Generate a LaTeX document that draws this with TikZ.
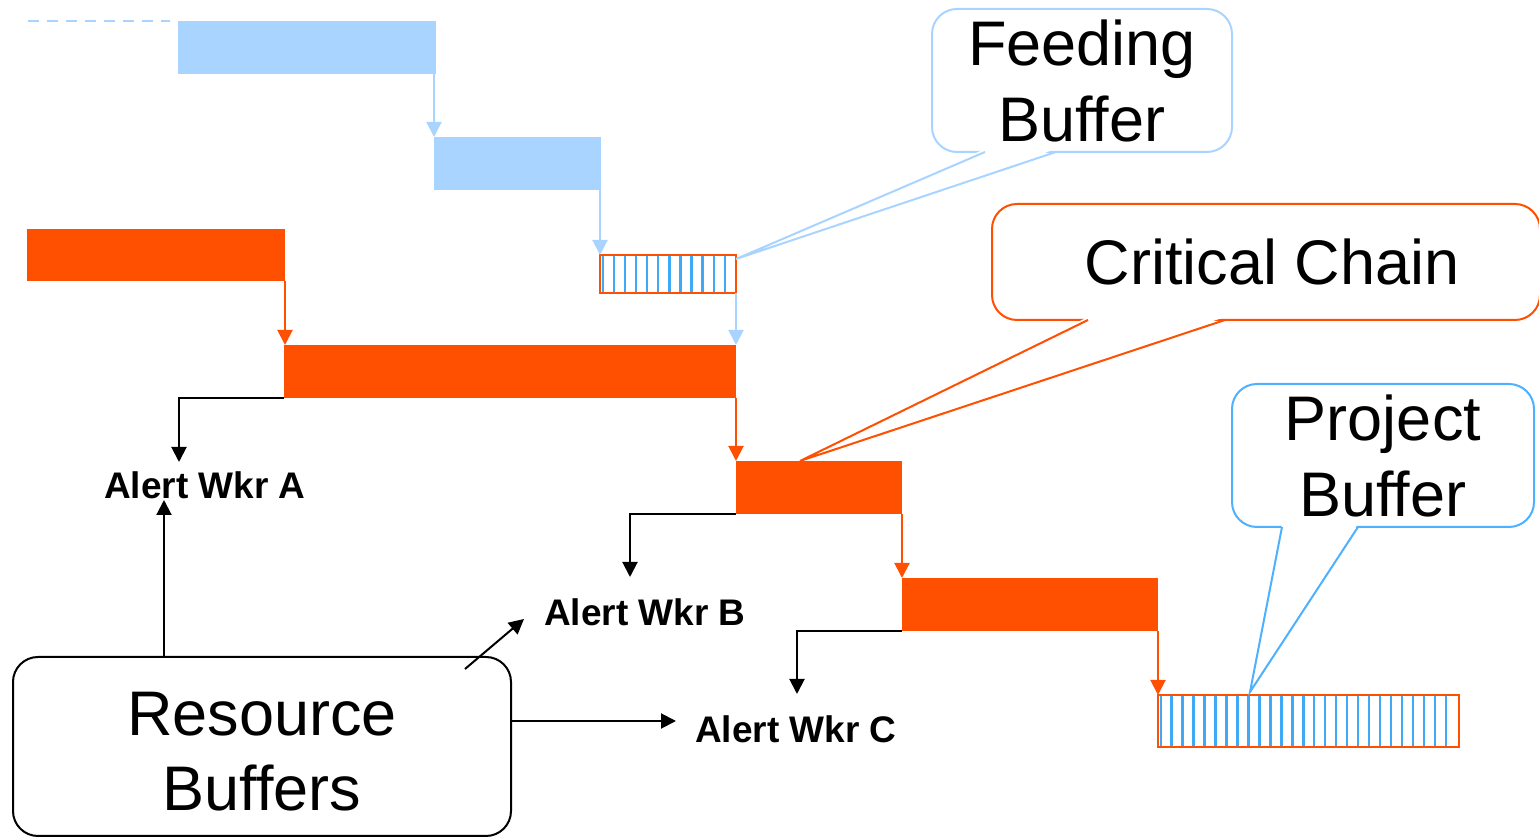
\documentclass[tikz,border=0pt]{standalone}
\usepackage{fontspec}
\setmainfont{Liberation Sans}
\usetikzlibrary{arrows.meta}
\definecolor{chain}{HTML}{FF4F00}
\definecolor{feedblue}{HTML}{A9D4FF}
\definecolor{stripeblue}{HTML}{3FA9F5}
\definecolor{projblue}{HTML}{4DB1FF}

% task bar: name, x1, y1, x2, y2, style
\newcommand\taskbar[6]{%
  \node[#6, minimum width={(#4-#2)*0.5pt}, minimum height={(#5-#3)*0.5pt}] (#1) at (#2,#3) {};}

\begin{document}
\begin{tikzpicture}[x=0.5pt,y=-0.5pt,
  barbase/.style={inner sep=0pt, outer sep=0pt, anchor=north west},
  feedbar/.style={barbase, fill=feedblue},
  chainbar/.style={barbase, fill=chain},
  bufbar/.style={barbase, fill=white, draw=chain, line width=1pt},
  tip/.style={-{Triangle[length=7.5pt,width=7.5pt]}},
  feedlink/.style={tip, draw=feedblue, line width=1pt},
  chainlink/.style={tip, draw=chain, line width=1pt},
  alertlink/.style={tip, draw=black, line width=1pt},
  stripe/.style={draw=stripeblue, line width=1.2pt},
  alertlbl/.style={inner sep=0pt, anchor=base, font=\fontsize{18.5}{22}\selectfont\bfseries},
  bubble/.style={draw, fill=white, line width=1pt, rounded corners=12.5pt, inner sep=0pt,
    align=center, font=\fontsize{31.5}{38}\selectfont},
  bubbletext/.style={inner sep=0pt, align=center, font=\fontsize{31.5}{37.5}\selectfont},
  pointer/.style={line width=1pt, line join=miter},
]
\useasboundingbox (0,0) rectangle (1539,838);

% feeding chain
\coordinate (dashS) at (28,21);
\taskbar{feedA}{178}{21}{436}{74}{feedbar}
\taskbar{feedB}{434}{137}{601}{190}{feedbar}
\draw[feedblue, line width=1.1pt, dash pattern=on 5.5pt off 4pt] (dashS) -- ([xshift=-4pt]feedA.north west);

% feeding buffer
\taskbar{fbuf}{600}{255}{736}{293}{bufbar}
\foreach \i in {0,...,11}
  \draw[stripe] ({602.7+11.1*\i},256) -- ({602.7+11.1*\i},292);
\draw[chain, line width=1pt] (fbuf.north west) rectangle (fbuf.south east);

% critical chain
\taskbar{taskA}{27}{229}{285}{281}{chainbar}
\taskbar{taskB}{284}{345}{736}{398}{chainbar}
\taskbar{taskC}{736}{461}{902}{514}{chainbar}
\taskbar{taskD}{902}{578}{1158}{631}{chainbar}

% project buffer
\taskbar{pbuf}{1158}{695}{1459}{747}{bufbar}
\foreach \i in {0,...,26}
  \draw[stripe] ({1160.7+10.97*\i},696) -- ({1160.7+10.97*\i},746);
\draw[chain, line width=1pt] (pbuf.north west) rectangle (pbuf.south east);

% links
\draw[feedlink] (feedB.north west |- feedA.south) -- (feedB.north west);
\draw[feedlink] (fbuf.north west |- feedB.south) -- (fbuf.north west);
\draw[feedlink] (fbuf.south east) -- (taskB.north east);
\draw[chainlink] (taskA.south east) -- (taskA.south east |- taskB.north);
\draw[chainlink] (taskB.south east) -- (taskC.north west);
\draw[chainlink] (taskC.south east) -- (taskD.north west);
\draw[chainlink] (taskD.south east) -- (pbuf.north west);

% alerts
\node[alertlbl] (alertA) at (205,499) {Alert Wkr A};
\node[alertlbl] (alertB) at (645,626) {Alert Wkr B};
\node[alertlbl] (alertC) at (796,743) {Alert Wkr C};
\coordinate (tipA) at (179,462);
\coordinate (tipB) at (630,577);
\coordinate (tipC) at (797,694);
\draw[alertlink] (taskB.south west) -| (tipA);
\draw[alertlink] (taskC.south west) -| (tipB);
\draw[alertlink] (taskD.south west) -| (tipC);

% resource buffers
\node[bubble, draw=black, minimum width=249pt, minimum height=89.5pt] (res) at (262,746.5) {};
\node[bubbletext] (resText) at (262,752) {Resource\\Buffers};
\coordinate (upA) at (164,500);
\coordinate (diagS) at (465,669);
\coordinate (diagE) at (524,619);
\coordinate (rightE) at (676,721);
\draw[alertlink] (res.north -| upA) -- (upA);
\draw[alertlink] (diagS) -- (diagE);
\draw[alertlink] (res.east |- rightE) -- (rightE);

% callouts
\node[bubble, draw=feedblue, minimum width=150pt, minimum height=71.5pt] (feedcall) at (1082,80.5)
  {Feeding\\Buffer};
\coordinate (fcL) at (985,152);
\coordinate (fcR) at (1056,152);
\coordinate (fcT) at (736,259);
\fill[white] ([yshift=1.5pt]fcL) -- (fcT) -- ([yshift=1.5pt]fcR) -- cycle;
\draw[pointer, feedblue] (fcL) -- (fcT) -- (fcR);

\node[bubble, draw=chain, minimum width=274pt, minimum height=58pt] (chaincall) at (1266,262)
  {\kern6pt Critical Chain};
\coordinate (ccL) at (1088,320);
\coordinate (ccR) at (1225,320);
\coordinate (ccT) at (800,461);
\fill[white] ([yshift=1.5pt]ccL) -- (ccT) -- ([yshift=1.5pt]ccR) -- cycle;
\draw[pointer, chain] (ccL) -- (ccT) -- (ccR);

\node[bubble, draw=projblue, minimum width=151pt, minimum height=71.5pt] (projcall) at (1383,455.5)
  {Project\\Buffer};
\coordinate (pcL) at (1282,527);
\coordinate (pcR) at (1358,527);
\coordinate (pcT) at (1250,692);
\fill[white] ([yshift=1.5pt]pcL) -- (pcT) -- ([yshift=1.5pt]pcR) -- cycle;
\draw[pointer, projblue] (pcL) -- (pcT) -- (pcR);
\end{tikzpicture}
\end{document}
